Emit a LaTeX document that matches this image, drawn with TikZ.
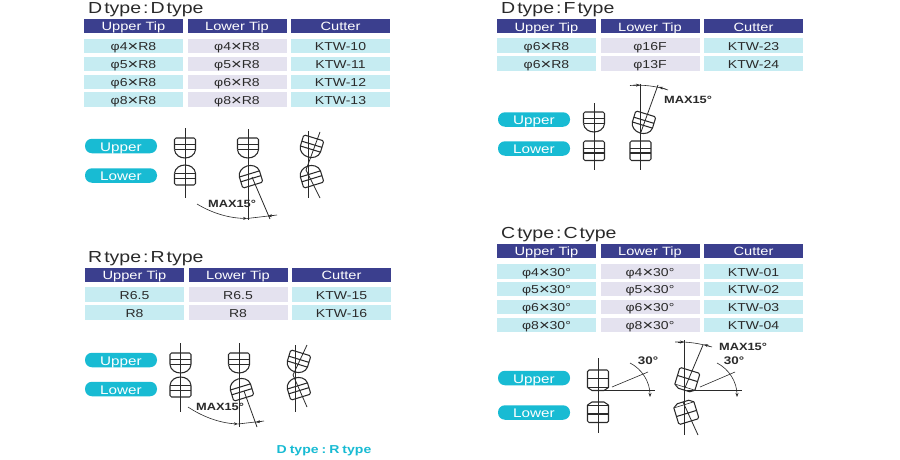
\documentclass[tikz,border=0pt]{standalone}
\usepackage{fontspec}
\setmainfont[FakeStretch=1.22]{Liberation Sans}
\usetikzlibrary{arrows.meta}
\definecolor{hdr}{HTML}{3B3F8E}
\definecolor{rowc}{HTML}{C6ECF2}
\definecolor{rowl}{HTML}{E4E2EF}
\definecolor{pillc}{HTML}{18BBD3}
\definecolor{ink}{HTML}{2A2A2A}
\newcommand{\titlefnt}{\fontsize{16}{16}\selectfont\spaceskip 2pt\relax}
\newcommand{\capfnt}{\fontsize{11.5}{11.5}\selectfont\bfseries\spaceskip 3pt\relax}
\newcommand{\X}{\raisebox{-1pt}{\fontsize{15}{15}\selectfont ×}}
\tikzset{
 cellbox/.style={inner sep=0pt,minimum width=99pt,font=\fontsize{11.5}{11.5}\selectfont,text=ink,text height=9.5pt,text depth=0pt},
 hdrcell/.style={cellbox,fill=hdr,text=white,minimum height=14pt,font=\fontsize{12}{12}\selectfont},
 cyancell/.style={cellbox,fill=rowc,minimum height=14.5pt},
 lavcell/.style={cellbox,fill=rowl,minimum height=14.5pt},
 pillbox/.style={fill=pillc,rounded corners=7pt,minimum width=72pt,minimum height=14.5pt,inner sep=0pt,text=white,font=\fontsize{12.5}{12.5}\selectfont,text height=10.5pt,text depth=0pt},
 titletext/.style={anchor=west,inner sep=0pt,text=ink,font=\titlefnt},
 maxtext/.style={inner sep=0pt,text=ink,font=\fontsize{10.5}{10.5}\selectfont\bfseries},
 anglet/.style={inner sep=0pt,text=ink,font=\fontsize{11}{11}\selectfont\bfseries},
 axisline/.style={draw=ink,line width=0.8pt},
 tipline/.style={draw=ink,line width=1.05pt},
 thinline/.style={draw=ink,line width=0.6pt},
 headtip/.style={-{Stealth[length=4pt,width=3pt]}},
 tipD/.pic={
  \draw[tipline,rounded corners=1.5pt] (-10.5,-8.3) -- (-10.5,-20) -- (10.5,-20) -- (10.5,-8.3);
  \draw[tipline] (-10.5,-8.3) .. controls (-10,-3) and (-5,0) .. (0,0) .. controls (5,0) and (10,-3) .. (10.5,-8.3);
  \draw[tipline] (-10.5,-13.3) -- (10.5,-13.3) (-10.5,-8.3) -- (10.5,-8.3);
 },
 tipF/.pic={
  \draw[tipline,rounded corners=1.5pt] (-10.5,0) rectangle (10.5,-19.5);
  \draw[tipline] (-10.5,-7.5) -- (10.5,-7.5) (-10.5,-12) -- (10.5,-12);
 },
 tipC/.pic={
  \draw[tipline,rounded corners=1.5pt] (-10.5,-3) -- (-10.5,-20.5) -- (10.5,-20.5) -- (10.5,-3);
  \draw[tipline] (-10.5,-3) -- (-6,0) -- (6,0) -- (10.5,-3);
  \draw[tipline] (-10.5,-12) -- (10.5,-12);
  \draw[thinline] (-10.5,-3) -- (10.5,-3);
 },
}
\newcommand{\tablerow}[6]{% id, left x, y, a, b, c
 \node[cyancell] (#1a) at (#2+49.5,#3) {#4};
 \node[lavcell] (#1b) at (#2+153,#3) {#5};
 \node[cyancell] (#1c) at (#2+256.5,#3) {#6};
}
\newcommand{\tablehead}[3]{% id, left x, y
 \node[hdrcell] (#1a) at (#2+49.5,#3) {Upper Tip};
 \node[hdrcell] (#1b) at (#2+153,#3) {Lower Tip};
 \node[hdrcell] (#1c) at (#2+256.5,#3) {Cutter};
}
\begin{document}
\begin{tikzpicture}[x=1pt,y=-1pt]
\useasboundingbox[fill=white] (0,0) rectangle (900,460);

% ---------- D : D
\node[titletext] (t1) at (88,9.5) {D type\ :\ D type};
\tablehead{a0}{84}{26}
\tablerow{a1}{84}{46}{φ4\X R8}{φ4\X R8}{KTW-10}
\tablerow{a2}{84}{64}{φ5\X R8}{φ5\X R8}{KTW-11}
\tablerow{a3}{84}{82}{φ6\X R8}{φ6\X R8}{KTW-12}
\tablerow{a4}{84}{99.5}{φ8\X R8}{φ8\X R8}{KTW-13}
\node[pillbox] (a5) at (121,146) {Upper};
\node[pillbox] (a6) at (121,175.5) {Lower};
\draw[axisline] (185,128) -- (185,198);
\pic at (185,158) {tipD};
\pic[yscale=-1] at (185,165) {tipD};
\draw[axisline] (248,129) -- (248,220);
\pic at (248,158) {tipD};
\pic[rotate=17,yscale=-1] at (247,166) {tipD};
\draw[axisline] (252,177) -- (270,219);
\draw[axisline] (308,131) -- (308,198);
\pic[rotate=-17] at (308,157) {tipD};
\pic[rotate=17,yscale=-1] at (308,166) {tipD};
\draw[axisline] (320,132) -- (306,170) -- (320,198);
\draw[thinline,headtip] (197,204) .. controls (212,213) and (228,218) .. (247,218.5);
\draw[thinline] (277,215) -- (247,218.5);
\draw[thinline,headtip] (274,215.4) -- (268,216.2);
\node[maxtext] (a7) at (232,203.5) {MAX15°};

% ---------- D : F
\node[titletext] (t2) at (501,9.5) {D type\ :\ F type};
\tablehead{b0}{497}{26.5}
\tablerow{b1}{497}{45.5}{φ6\X R8}{φ16F}{KTW-23}
\tablerow{b2}{497}{63.5}{φ6\X R8}{φ13F}{KTW-24}
\node[pillbox] (b5) at (534,119.5) {Upper};
\node[pillbox] (b6) at (534,148.5) {Lower};
\draw[axisline] (594,103) -- (594,170);
\pic at (594,132) {tipD};
\pic[yscale=-1] at (594,141) {tipF};
\draw[axisline] (640.5,84) -- (640.5,170);
\pic[rotate=-17] at (640,133) {tipD};
\pic[yscale=-1] at (640.5,141) {tipF};
\draw[axisline] (658,85) -- (641,132);
\draw[thinline] (630,85.5) .. controls (643,84.5) and (656,86) .. (668,90);
\draw[thinline,headtip] (633,85.3) -- (640,85);
\draw[thinline,headtip] (666,89.2) -- (659,87);
\node[maxtext] (b7) at (688,100) {MAX15°};

% ---------- R : R
\node[titletext] (t3) at (88,258.5) {R type\ :\ R type};
\tablehead{c0}{85}{275}
\tablerow{c1}{85}{294.5}{R6.5}{R6.5}{KTW-15}
\tablerow{c2}{85}{312.5}{R8}{R8}{KTW-16}
\node[pillbox] (c5) at (121,360) {Upper};
\node[pillbox] (c6) at (121,389) {Lower};
\draw[axisline] (180.5,343) -- (180.5,412);
\pic at (180.5,373) {tipD};
\pic[yscale=-1] at (180.5,377) {tipD};
\draw[axisline] (239,343) -- (239,427);
\pic at (239,373) {tipD};
\pic[rotate=17,yscale=-1] at (238,379) {tipD};
\draw[axisline] (244,391) -- (257,427);
\draw[axisline] (295,345) -- (295,412);
\pic[rotate=-17] at (295,372) {tipD};
\pic[rotate=17,yscale=-1] at (295,378) {tipD};
\draw[axisline] (307,345) -- (293,375) -- (307,407);
\draw[thinline,headtip] (188,407) .. controls (203,417) and (220,423) .. (238,424);
\draw[thinline] (264,421) -- (238,424);
\draw[thinline,headtip] (262,421.3) -- (256,422.2);
\node[maxtext] (c7) at (220,407) {MAX15°};

% ---------- C : C
\node[titletext] (t4) at (501,235) {C type\ :\ C type};
\tablehead{d0}{497}{251}
\tablerow{d1}{497}{271.5}{φ4\X 30°}{φ4\X 30°}{KTW-01}
\tablerow{d2}{497}{289}{φ5\X 30°}{φ5\X 30°}{KTW-02}
\tablerow{d3}{497}{307}{φ6\X 30°}{φ6\X 30°}{KTW-03}
\tablerow{d4}{497}{325}{φ8\X 30°}{φ8\X 30°}{KTW-04}
\node[pillbox] (d5) at (534,378) {Upper};
\node[pillbox] (d6) at (534,412.5) {Lower};
\draw[axisline] (598,358) -- (598,433);
\pic at (598,390.5) {tipC};
\pic[yscale=-1] at (598,402) {tipC};
\draw[thinline] (598,390) -- (655,390);
\draw[thinline] (612,387) -- (648,372);
\draw[thinline,headtip] (630,363) .. controls (642,369) and (650,382) .. (650,397);
\node[anglet] (d7) at (648,361) {30°};
\draw[axisline] (684,340) -- (684,435);
\pic[rotate=-17] at (684,390) {tipC};
\pic[rotate=17,yscale=-1] at (683,402) {tipC};
\draw[axisline] (703,345) -- (684,390);
\draw[axisline] (683,402) -- (698,435);
\draw[thinline] (675,342) .. controls (688,341.5) and (700,343.5) .. (712,347);
\draw[thinline,headtip] (678,342) -- (684,342);
\draw[thinline,headtip] (710,346.4) -- (704,344.6);
\node[maxtext] (d8) at (743,346.5) {MAX15°};
\draw[thinline] (687,390) -- (742,390);
\draw[thinline] (700,387) -- (735,372);
\draw[thinline,headtip] (717,363) .. controls (729,369) and (737,382) .. (737,397);
\node[anglet] (d9) at (734,361) {30°};

% ---------- caption
\node[inner sep=0pt,text=pillc,font=\capfnt] (e1) at (324,451) {D type\ :\ R type};
\end{tikzpicture}
\end{document}
